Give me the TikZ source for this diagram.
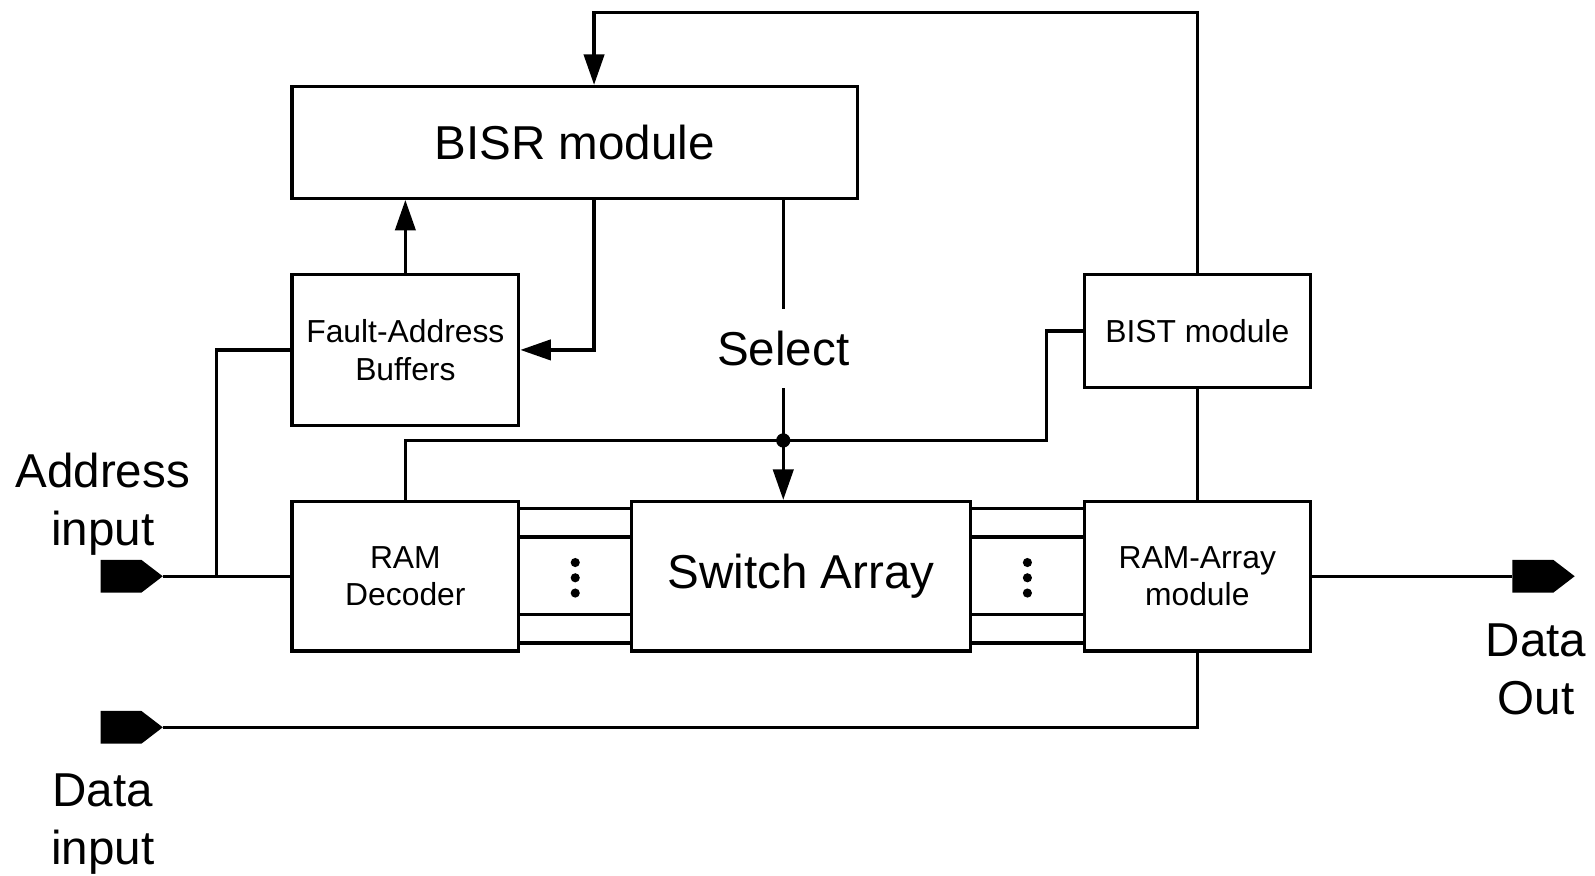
\documentclass[tikz,border=0pt]{standalone}
\usepackage{fontspec}
\setmainfont{Liberation Sans}
\usepackage{tikz}
\usetikzlibrary{arrows.meta,shapes.symbols}

\begin{document}
\begin{tikzpicture}[line width=0.9pt,
  box/.style={draw,inner sep=0pt,align=center},
  big/.style={font=\fontsize{13.3}{16.2}\selectfont},
  small/.style={font=\fontsize{8.9}{10.5}\selectfont},
  arr/.style={-{Triangle[length=3mm,width=2mm]}},
  pin/.style={signal,signal to=east,signal pointer angle=75,fill,draw,inner sep=0pt,minimum width=0.57cm,minimum height=0.29cm,anchor=east}]
\useasboundingbox (0,0) rectangle (15.68,-8.611);

\node[box,big,minimum width=5.56cm,minimum height=1.10cm] (bisr) at (5.65,-1.40) {BISR module};
\node[box,small,minimum width=2.23cm,minimum height=1.48cm] (fab) at (3.985,-3.44) {Fault-Address\\Buffers};
\node[box,small,minimum width=2.22cm,minimum height=1.11cm] (bist) at (11.77,-3.255) {BIST module};
\node[box,small,minimum width=2.23cm,minimum height=1.47cm] (dec) at (3.985,-5.665) {RAM\\Decoder};
\node[box,big,minimum width=3.33cm,minimum height=1.47cm] (sw) at (7.875,-5.665) {Switch Array};
\node[box,small,minimum width=2.22cm,minimum height=1.47cm] (ram) at (11.77,-5.665) {RAM-Array\\module};

\node[big,inner sep=0.2cm] (sel) at (7.70,-3.43) {Select};

\node[pin] (ain) at (1.60,-5.665) {};
\node[pin] (din) at (1.60,-7.15) {};
\node[pin] (dout) at (15.48,-5.665) {};

\node[big,align=center] (ainl) at (1.01,-4.96) {Address\\input};
\node[big,align=center] (dinl) at (1.01,-8.10) {Data\\input};
\node[big,align=center] (doutl) at (15.10,-6.58) {Data\\Out};

\coordinate (top) at (5.84,-0.12);
\coordinate (j) at (7.70,-4.33);
\coordinate (bend) at (10.29,-4.33);
\coordinate (br) at (2.13,-5.665);

\draw[arr] (bist.north) |- (top) -- (top |- bisr.north);
\draw[arr] (fab.north) -- (fab.north |- bisr.south);
\draw[arr] (bisr.south -| top) |- (fab.east);
\draw (bisr.south -| sel) -- (sel.north);
\draw (sel.south) -- (j);
\draw[arr] (j) -- (j |- sw.north);
\fill (j) circle (0.07);
\draw (dec.north) |- (bend) |- (bist.west);
\draw (bist.south) -- (ram.north);
\draw (ain.east) -- (dec.west);
\draw (br) |- (fab.west);
\draw (din.east) -| (ram.south);
\draw (ram.east) -- (dout.west);

\foreach \y in {-5.00,-5.28,-6.04,-6.32} {
  \draw (dec.east |- 0,\y) -- (sw.west |- 0,\y);
  \draw (sw.east |- 0,\y) -- (ram.west |- 0,\y);
}
\foreach \x in {5.655,10.10}
  \foreach \y in {-5.53,-5.68,-5.83}
    \fill (\x,\y) circle (0.045);
\end{tikzpicture}
\end{document}
